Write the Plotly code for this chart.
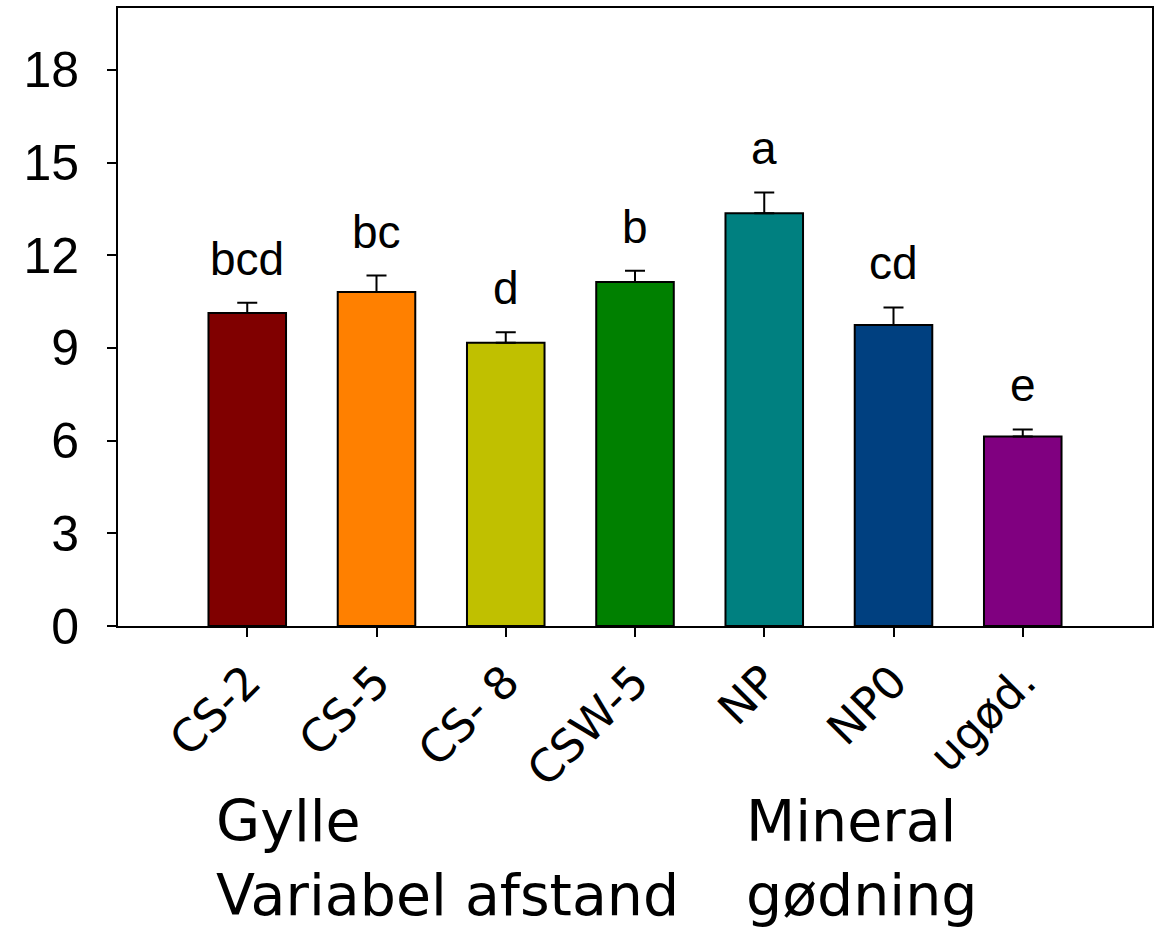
import plotly.graph_objects as go

# Treatment groups and measured means with standard errors
categories = ["CS-2", "CS-5", "CS- 8", "CSW-5", "NP", "NP0", "ugød."]
means = [10.13, 10.81, 9.17, 11.13, 13.36, 9.74, 6.13]
errors = [0.33, 0.53, 0.34, 0.37, 0.67, 0.57, 0.23]
letters = ["bcd", "bc", "d", "b", "a", "cd", "e"]
colors = ["#800000", "#FF8000", "#C0C000", "#008000", "#008080", "#004080", "#800080"]
y_ticks = [0, 3, 6, 9, 12, 15, 18]

fig = go.Figure()
fig.add_trace(go.Bar(
    x=categories,
    y=means,
    width=0.6,
    marker=dict(color=colors, line=dict(color="black", width=2)),
    error_y=dict(type="data", array=errors, symmetric=False,
                 arrayminus=[0] * len(errors),
                 color="black", thickness=2, width=10),
    showlegend=False,
))

# Significance letters above each error bar
for cat, m, e, lab in zip(categories, means, errors, letters):
    fig.add_annotation(x=cat, y=m + e, text=lab, showarrow=False,
                       xanchor="center", yanchor="bottom", yshift=16,
                       font=dict(family="Liberation Sans, Arial", size=46, color="black"))

# Group labels beneath the axis
group_font = dict(family="DejaVu Sans", size=57, color="black")
plot_w, plot_h = 1034, 620
def px(xp):
    return (xp - 118) / plot_w
def py(yp):
    return (626 - yp) / plot_h
for text, xp, yp in [("Gylle", 214, 822), ("Variabel afstand", 214, 896),
                     ("Mineral", 744, 822), ("gødning", 744, 896)]:
    fig.add_annotation(x=px(xp), y=py(yp), xref="paper", yref="paper",
                       text=text, showarrow=False, xanchor="left", yanchor="middle",
                       font=group_font)

fig.update_layout(
    width=1160, height=931,
    margin=dict(l=118, r=8, t=6, b=305),
    paper_bgcolor="white", plot_bgcolor="white",
    bargap=0.4,
)
fig.update_xaxes(
    range=[-1, 7], showline=True, linecolor="black", linewidth=2, mirror=True,
    ticks="outside", ticklen=9, tickwidth=2, tickcolor="black",
    tickangle=-45, tickfont=dict(family="DejaVu Sans", size=45, color="black"),
    showgrid=False, zeroline=False,
)
fig.update_yaxes(
    range=[0, 20], tickvals=y_ticks, showline=True, linecolor="black", linewidth=2,
    mirror=True, ticks="outside", ticklen=9, tickwidth=2, tickcolor="black",
    ticklabelstandoff=18,
    tickfont=dict(family="Liberation Sans, Arial", size=50, color="black"),
    showgrid=False, zeroline=False,
)

fig.write_html("out.html")
